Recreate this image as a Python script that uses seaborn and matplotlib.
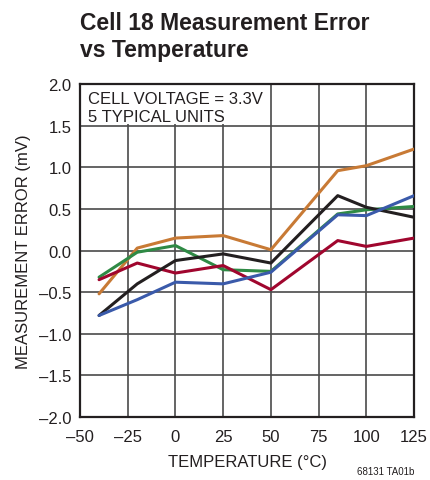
import numpy as np
import pandas as pd
import matplotlib.pyplot as plt
import seaborn as sns
from matplotlib.patches import Rectangle

# Dados
temperature = [-40, -20, 0, 25, 50, 85, 100, 125]
unit_orange = [-0.52, 0.03, 0.15, 0.18, 0.01, 0.96, 1.02, 1.22]
unit_black = [-0.78, -0.40, -0.12, -0.04, -0.15, 0.66, 0.52, 0.40]
unit_blue = [-0.78, -0.59, -0.38, -0.40, -0.26, 0.43, 0.42, 0.66]
unit_green = [-0.32, -0.02, 0.06, -0.23, -0.25, 0.44, 0.49, 0.53]
unit_red = [-0.35, -0.15, -0.27, -0.18, -0.47, 0.12, 0.05, 0.15]

units = ['orange', 'green', 'red', 'black', 'blue']
series = {'orange': unit_orange, 'green': unit_green, 'red': unit_red,
          'black': unit_black, 'blue': unit_blue}
colors = ['#C87A35', '#2F8A45', '#A0062E', '#231F20', '#3A5AAA']

x_ticks = [-50, -25, 0, 25, 50, 75, 100, 125]
y_ticks = [-2.0, -1.5, -1.0, -0.5, 0, 0.5, 1.0, 1.5, 2.0]

df = pd.DataFrame({
    'temp': temperature * len(units),
    'error': sum([series[u] for u in units], []),
    'unit': sum([[u] * len(temperature) for u in units], []),
})

sns.set_theme(style="white")
plt.rcParams['font.family'] = ['Liberation Sans Narrow', 'Liberation Sans', 'DejaVu Sans']

fig = plt.figure(figsize=(4.3, 4.81), dpi=100)
ax = fig.add_axes([0.186, 0.131, 0.777, 0.692])

sns.lineplot(data=df, x='temp', y='error', hue='unit', palette=colors,
             linewidth=2.2, legend=False, ax=ax, zorder=3)

ax.set_xlim(-50, 125)
ax.set_ylim(-2.0, 2.0)
ax.set_xticks(x_ticks)
ax.set_yticks(y_ticks)
ax.set_xticklabels([f'{t:d}'.replace('-', '\u2013') for t in x_ticks])
ax.set_yticklabels([f'{t:.1f}'.replace('-', '\u2013') for t in y_ticks])
ax.tick_params(axis='both', length=0, labelsize=12, colors='#231F20')
ax.tick_params(axis='x', pad=9)
ax.tick_params(axis='y', pad=6)
ax.grid(True, color='#4A4A4A', linewidth=1.2, zorder=1)
for s in ax.spines.values():
    s.set_color('#231F20')
    s.set_linewidth(1.6)

# caixa branca atrás da anotação
ax.add_patch(Rectangle((-50, 1.52), 88, 0.48, facecolor='white', edgecolor='none', zorder=2))
ax.text(-46, 1.83, 'CELL VOLTAGE = 3.3V', fontsize=12, color='#231F20', va='center', zorder=4)
ax.text(-46, 1.61, '5 TYPICAL UNITS', fontsize=12, color='#231F20', va='center', zorder=4)

ax.set_xlabel('TEMPERATURE (°C)', fontsize=12, color='#231F20', labelpad=7)
ax.set_ylabel('MEASUREMENT ERROR (mV)', fontsize=12, color='#231F20', labelpad=6)

fig.text(0.186, 0.975, 'Cell 18 Measurement Error\nvs Temperature', fontsize=16.5,
         fontweight='bold', color='#231F20', va='top', ha='left', linespacing=1.2)
fig.text(0.963, 0.008, '68131 TA01b', fontsize=7, color='#231F20', ha='right', va='bottom')

fig.savefig('out.png', dpi=100)
plt.close(fig)
